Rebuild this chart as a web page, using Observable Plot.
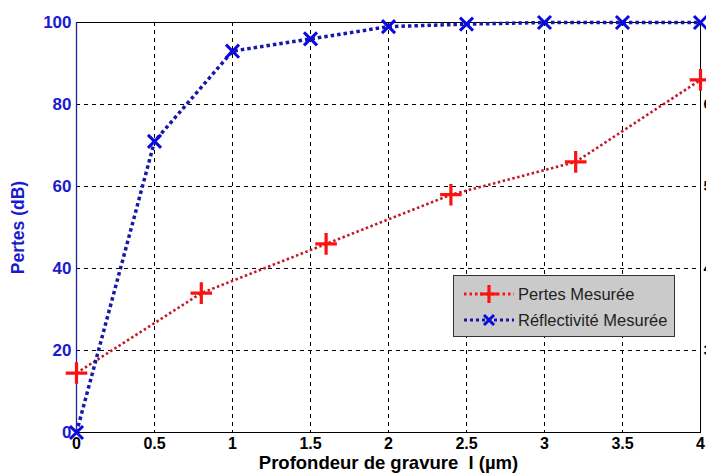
<!DOCTYPE html>
<html>
<head>
<meta charset="utf-8">
<script src="https://cdn.jsdelivr.net/npm/d3@7"></script>
<script src="https://cdn.jsdelivr.net/npm/@observablehq/plot@0.6"></script>
<style>
  html, body { margin: 0; padding: 0; background: #fff; }
  #wrap { position: relative; width: 706px; height: 475px; overflow: hidden; }
  #legend {
    position: absolute; left: 453px; top: 275px; width: 222px; height: 62px;
    box-sizing: border-box; background: #cacaca; border: 1px solid #333;
    font-family: "Liberation Sans", Arial, sans-serif; font-size: 16.5px; color: #222;
  }
  .row { position: absolute; left: 9px; height: 22px; display: flex; align-items: center; white-space: nowrap; }
  .row svg { margin-right: 3px; }
</style>
</head>
<body>
<div id="wrap"></div>
<script>
// Data
const depthReflect = [0, 0.5, 1, 1.5, 2, 2.5, 3, 3.5, 4];
const reflectivity = [0, 71, 93, 96, 99, 99.6, 100, 100, 100];
const depthLoss = [0, 0.8, 1.6, 2.4, 3.2, 4];
const losses = [14.5, 34, 46, 58, 66, 86];
const xTicks = [0, 0.5, 1, 1.5, 2, 2.5, 3, 3.5, 4];
const yTicks = [0, 20, 40, 60, 80, 100];
const rightTicks = [20, 40, 60, 80];
const rightTickLabels = ["30", "40", "50", "60"];
const seriesNames = ["Pertes Mesurée", "Réflectivité Mesurée"];

const reflData = depthReflect.map((d, i) => ({x: d, y: reflectivity[i]}));
const lossData = depthLoss.map((d, i) => ({x: d, y: losses[i]}));

const blue = "#1818a8";
const red = "#ff1010";
const lossLine = "#c01c28";
const font = "'Liberation Sans', Arial, sans-serif";

const chart = Plot.plot({
  width: 706,
  height: 475,
  marginLeft: 76,
  marginRight: 6,
  marginTop: 22,
  marginBottom: 43,
  style: {fontFamily: font, background: "#fff", overflow: "hidden"},
  x: {domain: [0, 4]},
  y: {domain: [0, 100]},
  marks: [
    Plot.gridX(xTicks, {stroke: "#000", strokeOpacity: 1, strokeDasharray: "4,4"}),
    Plot.gridY(yTicks, {stroke: "#000", strokeOpacity: 1, strokeDasharray: "4,4"}),
    Plot.frame({stroke: "#000", strokeWidth: 1}),
    Plot.ruleX([0], {stroke: "#2020a0", strokeWidth: 1.3}),
    Plot.axisX(xTicks, {tickSize: 0, tickPadding: 5, fontSize: 16, fontWeight: "bold", fill: "#000", label: null,
      tickFormat: d => String(d)}),
    Plot.axisY(yTicks, {tickSize: 0, tickPadding: 5, fontSize: 17, fontWeight: "bold", fill: "#1a1ad0", label: null}),
    Plot.axisY(rightTicks, {anchor: "right", tickSize: 0, tickPadding: 3, fontSize: 15, fontWeight: "bold", fill: "#000", label: null,
      tickFormat: d => rightTickLabels[rightTicks.indexOf(d)]}),
    Plot.line(lossData, {x: "x", y: "y", stroke: lossLine, strokeWidth: 2.6, strokeLinecap: "butt", strokeDasharray: "2.5,2.5"}),
    Plot.line(reflData, {x: "x", y: "y", stroke: blue, strokeWidth: 3.5, strokeLinecap: "butt", strokeDasharray: "3.5,3"}),
    Plot.dot(lossData, {x: "x", y: "y", symbol: "plus", r: 7, stroke: red, strokeWidth: 3.2}),
    Plot.dot(reflData, {x: "x", y: "y", symbol: "times", r: 6, stroke: "#0a0ae0", strokeWidth: 3}),
    Plot.text(["Profondeur de gravure  l (µm)"], {frameAnchor: "bottom", dy: 36, fontSize: 18.5, fontWeight: "bold", fill: "#000"}),
    Plot.text(["Pertes (dB)"], {frameAnchor: "left", textAnchor: "middle", dx: -58, rotate: -90, fontSize: 17.5, fontWeight: "bold", fill: "#1a1ad0"})
  ]
});

const wrap = document.getElementById("wrap");
wrap.appendChild(chart);

// Legend
const legend = document.createElement("div");
legend.id = "legend";
const styles = [
  {stroke: red, marker: red, sym: "plus", dash: "2.5,3"},
  {stroke: blue, marker: "#0a0ae0", sym: "times", dash: "3,3"}
];
seriesNames.forEach((name, i) => {
  const s = styles[i];
  const row = document.createElement("div");
  row.className = "row";
  row.style.top = (i === 0 ? 7 : 33) + "px";
  const markerPath = s.sym === "plus"
    ? `<path d="M26,2 V20 M17,11 H35" stroke="${s.marker}" stroke-width="3.2"/>`
    : `<path d="M21,6 L31,16 M31,6 L21,16" stroke="${s.marker}" stroke-width="3"/>`;
  row.innerHTML = `<svg width="52" height="22"><line x1="1" y1="11" x2="51" y2="11" stroke="${s.stroke}" stroke-width="3" stroke-dasharray="${s.dash}"/>${markerPath}</svg><span>${name}</span>`;
  legend.appendChild(row);
});
wrap.appendChild(legend);
</script>
</body>
</html>
